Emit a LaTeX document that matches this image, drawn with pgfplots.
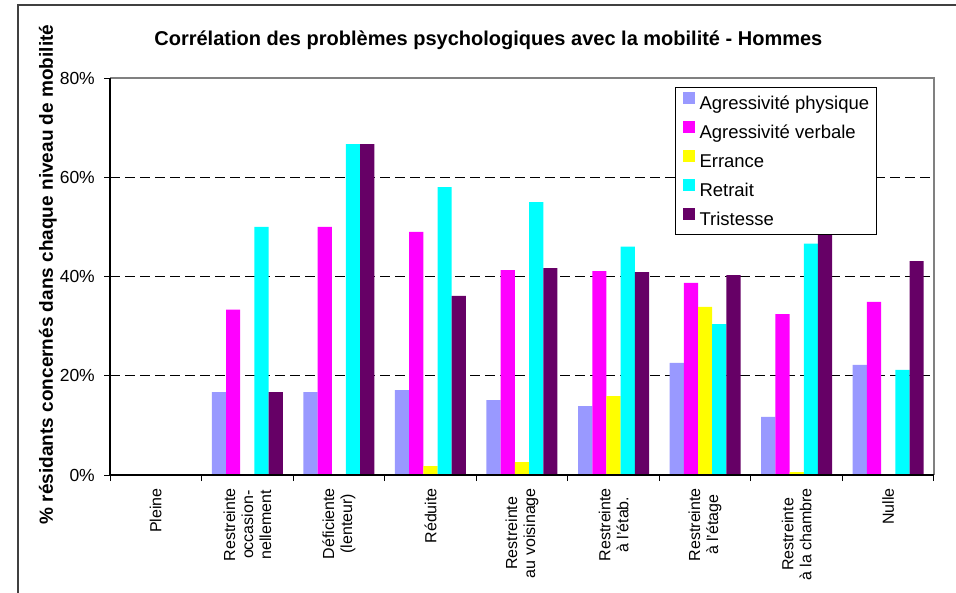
\documentclass[border=0pt]{standalone}
\usepackage{fontspec}
\setmainfont{Liberation Sans}
\usepackage{pgfplots}
\pgfplotsset{compat=1.18}
\definecolor{cphys}{HTML}{9999FF}
\definecolor{cverb}{HTML}{FF00FF}
\definecolor{cerr}{HTML}{FFFF00}
\definecolor{cret}{HTML}{00FFFF}
\definecolor{ctri}{HTML}{660066}
\definecolor{frame}{HTML}{404040}
\begin{document}
\begin{tikzpicture}[x=1pt,y=1pt]
\begin{axis}[
  at={(110pt,117pt)}, anchor=south west,
  scale only axis, width=824pt, height=397pt,
  ybar=0pt, bar width=14.2pt,
  xmin=-0.5, xmax=8.5, ymin=0, ymax=80,
  enlargelimits=false, clip=false,
  axis line style={draw=none},
  tick pos=left, tick align=outside,
  major tick length=0pt, minor tick length=6pt,
  every tick/.style={black, line width=1pt},
  xtick={0,...,8},
  xticklabels={Pleine, {Restreinte\\occasion-\\nellement}, {Déficiente\\(lenteur)}, Réduite, {Restreinte\\au voisinage}, {Restreinte\\à l'étab.}, {Restreinte\\à l'étage}, {Restreinte\\à la chambre}, Nulle},
  minor xtick={-0.5,0.5,...,8.5},
  ytick={0,20,40,60,80},
  minor ytick={0,20,40,60,80},
  yticklabel={\pgfmathprintnumber{\tick}\%},
  /pgf/number format/assume math mode=true,
  xticklabel style={rotate=90, anchor=east, align=center, font=\fontsize{16}{18}\selectfont, inner xsep=13pt, inner ysep=0pt},
  yticklabel style={anchor=east, font=\fontsize{17.5}{20}\selectfont, inner xsep=15pt, inner ysep=0pt},
  ymajorgrids,
  grid style={black, line width=1pt, dash pattern=on 10pt off 5pt},
  title={Corrélation des problèmes psychologiques avec la mobilité - Hommes},
  title style={at={(axis description cs:0.4592,1.0662)}, anchor=base, font=\fontsize{20}{24}\bfseries},
  ylabel={\% résidants concernés dans chaque niveau de mobilité},
  ylabel style={at={(axis description cs:-0.0692,0.505)}, anchor=base, font=\fontsize{19}{23}\bfseries},
  legend style={at={(axis description cs:0.6857,0.978)}, anchor=north west,
    draw=black, line width=1pt, fill=white,
    font=\fontsize{18.5}{22}\selectfont,
    inner xsep=7.3pt, inner ysep=4pt, row sep=5.7pt, column sep=5pt,
    nodes={inner sep=0pt, text height=18.6pt, text depth=4.7pt},
    cells={anchor=west}},
  legend image code/.code={\path[#1,draw=none] (0pt,-1pt) rectangle (11.7pt,10.7pt);},
]
\addplot[fill=cphys, draw=none] coordinates {(0,0) (1,16.7) (2,16.7) (3,17.1) (4,15.1) (5,13.9) (6,22.6) (7,11.7) (8,22.2)};
\addplot[fill=cverb, draw=none] coordinates {(0,0) (1,33.3) (2,50.0) (3,49.0) (4,41.3) (5,41.1) (6,38.7) (7,32.4) (8,34.9)};
\addplot[fill=cerr, draw=none] coordinates {(0,0) (1,0) (2,0) (3,1.8) (4,2.6) (5,15.9) (6,33.9) (7,0.6) (8,0)};
\addplot[fill=cret, draw=none] coordinates {(0,0) (1,50.0) (2,66.7) (3,58.0) (4,55.0) (5,46.0) (6,30.4) (7,46.6) (8,21.2)};
\addplot[fill=ctri, draw=none] coordinates {(0,0) (1,16.7) (2,66.7) (3,36.1) (4,41.7) (5,40.9) (6,40.3) (7,50.0) (8,43.1)};
\legend{Agressivité physique, Agressivité verbale, Errance, Retrait, Tristesse}
\draw[color=gray, line width=1.8pt] (rel axis cs:0,1) -- (rel axis cs:1,1) -- (rel axis cs:1,0);
\draw[black, line width=1.3pt] (rel axis cs:0,1) -- (rel axis cs:0,0) -- (rel axis cs:1,0);
\end{axis}
\draw[frame, line width=1.5pt] (18pt,-5pt) -- (18pt,587pt) -- (961pt,587pt);
\pgfresetboundingbox
\path (0pt,0pt) rectangle (956pt,592pt);
\end{tikzpicture}
\end{document}
